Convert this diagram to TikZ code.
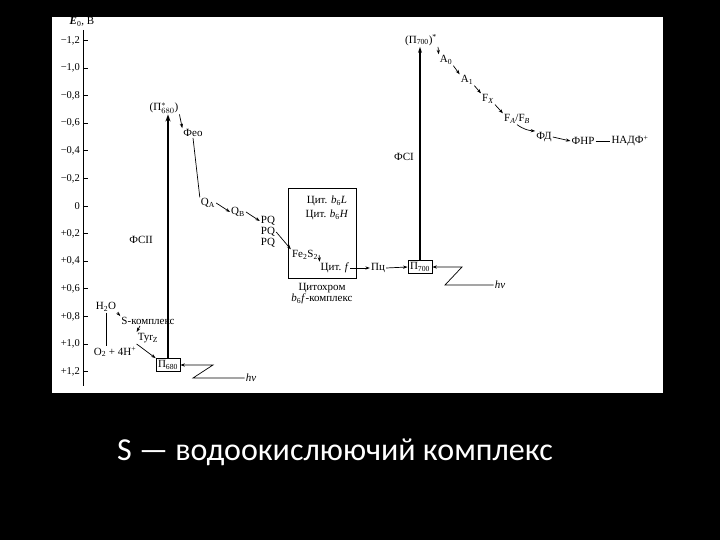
\documentclass[tikz,border=0pt]{standalone}
\usepackage{fontspec}
\setmainfont{Liberation Serif}
\newfontfamily\capfont{Carlito}
\usetikzlibrary{arrows.meta}
\begin{document}
\begin{tikzpicture}[x=1pt,y=-1pt,
  lbl/.style={font=\fontsize{11}{12}\selectfont, inner sep=1pt},
  ticklab/.style={font=\fontsize{10.5}{11}\selectfont, anchor=east, inner sep=1pt},
  arr/.style={-{Stealth[length=4.5pt,width=3.2pt]}, line width=0.7pt},
  ln/.style={line width=0.7pt},
  pbox/.style={draw, line width=0.8pt, inner sep=2pt, font=\fontsize{11}{12}\selectfont}
]
\fill[black] (0,0) rectangle (720,540);
\fill[white] (52,17) rectangle (663,393);
\useasboundingbox (0,0) rectangle (720,540);

% axis
\draw[line width=0.9pt] (83,30) -- (83,386);
\node[lbl] (elab) at (82,22) {\textbf{\textit{E}}\textsubscript{0}, В};
\foreach \e/\t [count=\i] in {-1.2/{−1,2},-1.0/{−1,0},-0.8/{−0,8},-0.6/{−0,6},-0.4/{−0,4},-0.2/{−0,2},0/{0},0.2/{+0,2},0.4/{+0,4},0.6/{+0,6},0.8/{+0,8},1.0/{+1,0},1.2/{+1,2}}{
  \pgfmathsetmacro{\yy}{206+138*\e}
  \draw[line width=0.7pt] (83,\yy) -- (88,\yy);
  \node[ticklab] (tk\i) at (81,\yy) {\t};
}

% PSII
\node[pbox] (p680) at (168,365) {П\textsubscript{680}};
\node[lbl] (pstar680) at (164,108) {(П$^{*}_{680}$)};
\node[lbl] (fs2) at (141,240) {ФСII};
\node[lbl] (feo) at (193,133) {Фео};
\node[lbl] (qa) at (208,203) {Q\textsubscript{A}};
\node[lbl] (qb) at (238,212) {Q\textsubscript{B}};
\node[lbl] (pq1) at (268,221) {PQ};
\node[lbl] (pq2) at (268,232) {PQ};
\node[lbl] (pq3) at (268,243) {PQ};

\draw[line width=2pt, -{Stealth[length=7pt,width=5pt]}] (p680.north) -- (p680.north |- pstar680.south);

% water side
\node[lbl] (h2o) at (106,307) {H\textsubscript{2}O};
\node[lbl] (scomp) at (148,321) {S-комплекс};
\node[lbl] (tyr) at (148,338) {Tyr\textsubscript{Z}};
\node[lbl] (o2) at (115,352) {O\textsubscript{2} + 4H\textsuperscript{+}};
\draw[ln] (h2o.south) -- (h2o.south |- o2.north);
\draw[arr] (h2o.south east) -- (scomp.north west);
\draw[arr] ([xshift=-8pt]scomp.south) -- (tyr.north west);
\draw[arr] (tyr.south west) -- (p680.north west);

% light PSII
\coordinate (z1a) at (213,365);
\coordinate (z1b) at (193,378);
\node[lbl] (hv1) at (251,378) {\textit{hν}};
\draw[ln, -{Stealth[length=4.5pt,width=3.2pt]}] (hv1.west) -- (z1b) -- (z1a) -- (p680.east);

% chain PSII
\draw[arr] (pstar680.south east) -- (feo.north west);
\draw[ln] (feo.south) -- (qa.north west);
\draw[arr] (qa.east) -- (qb.west);
\draw[arr] (qb.east) -- (pq1.west);

% cytochrome complex
\node[draw, line width=0.8pt, minimum width=68pt, minimum height=90pt, inner sep=0pt] (cyt) at (322,233) {};
\node[lbl] (b6l) at (327,201) {Цит. \textit{b}\textsubscript{6}\textit{L}};
\node[lbl] (b6h) at (327,215) {Цит. \textit{b}\textsubscript{6}\textit{H}};
\node[lbl] (fes) at (305,255) {Fe\textsubscript{2}S\textsubscript{2}};
\node[lbl] (cytf) at (335,268) {Цит. \textit{f}};
\node[lbl] (cn1) at (322,288) {Цитохром};
\node[lbl] (cn2) at (322,299) {\textit{b}\textsubscript{6}\textit{f}-комплекс};
\node[lbl] (pc) at (378,268) {Пц};
\node[pbox] (p700) at (420,267) {П\textsubscript{700}};

\draw[arr] (pq2.east) -- (fes.north west);
\draw[arr] (fes.east) -- (cytf.north west);
\draw[arr] (cytf.east) -- (pc.west);
\draw[arr] (pc.east) -- (p700.west);

% light PSI
\coordinate (z2a) at (462,267);
\coordinate (z2b) at (445,285);
\node[lbl] (hv2) at (500,285) {\textit{hν}};
\draw[ln, -{Stealth[length=4.5pt,width=3.2pt]}] (hv2.west) -- (z2b) -- (z2a) -- (p700.east);

% PSI
\node[lbl] (pstar700) at (421,40) {(П\textsubscript{700})\textsuperscript{*}};
\node[lbl] (fs1) at (404,157) {ФСI};
\draw[line width=1.1pt, -{Stealth[length=6pt,width=4pt]}] (p700.north) -- (p700.north |- pstar700.south);

\node[lbl] (a0) at (446,60) {A\textsubscript{0}};
\node[lbl] (a1) at (467,80) {A\textsubscript{1}};
\node[lbl] (fx) at (488,99) {F\textsubscript{\textit{X}}};
\node[lbl] (fab) at (517,119) {F\textsubscript{\textit{A}}/F\textsubscript{\textit{B}}};
\node[lbl] (fd) at (544,137) {ФД};
\node[lbl] (fnr) at (583,141) {ФНР};
\node[lbl] (nadp) at (630,141) {НАДФ\textsuperscript{+}};

\draw[arr] (pstar700.south east) -- (a0.north west);
\draw[arr] (a0.south east) -- (a1.north west);
\draw[arr] (a1.south east) -- (fx.north west);
\draw[arr] (fx.south east) -- (fab.north west);
\draw[arr] (fab.south) to[bend right=15] (fd.north west);
\draw[arr] (fd.east) -- (fnr.west);
\draw[ln] (fnr.east) -- (nadp.west);

% caption
\node[font=\capfont\fontsize{32}{36}\selectfont, text=white, inner sep=0pt] (cap) at (335,452) {S — водоокислюючий комплекс};
\end{tikzpicture}
\end{document}
